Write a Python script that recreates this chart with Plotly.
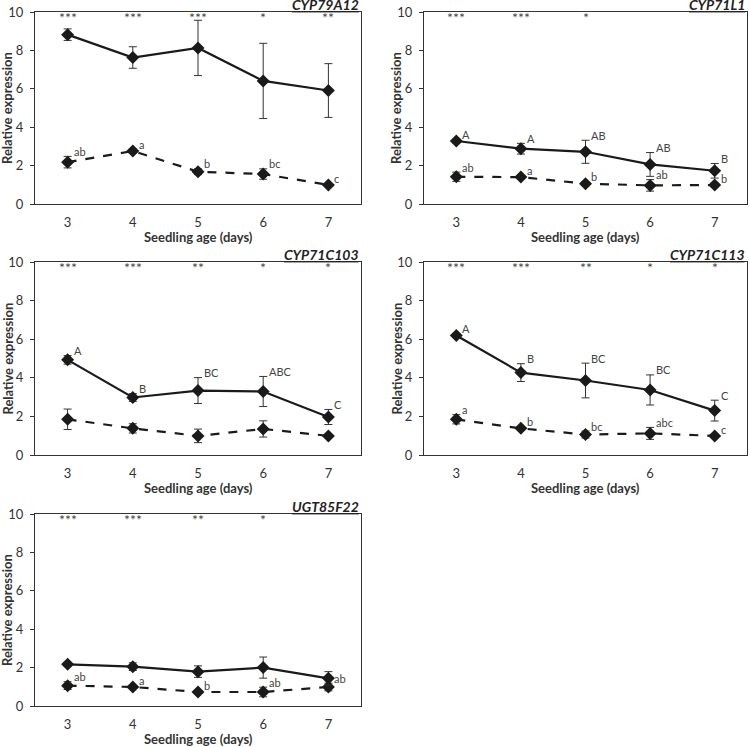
import plotly.graph_objects as go

days = [3, 4, 5, 6, 7]
genes = ["CYP79A12", "CYP71L1", "CYP71C103", "CYP71C113", "UGT85F22"]

# CYP79A12
cyp79a12_solid = [8.82, 7.63, 8.13, 6.41, 5.91]
cyp79a12_solid_err = [0.30, 0.56, 1.44, 1.96, 1.40]
cyp79a12_dash = [2.18, 2.76, 1.68, 1.56, 0.99]
cyp79a12_dash_err = [0.30, 0.10, 0.15, 0.27, 0.08]
cyp79a12_solid_lbl = ["", "", "", "", ""]
cyp79a12_dash_lbl = ["ab", "a", "b", "bc", "c"]
cyp79a12_stars = ["***", "***", "***", "*", "**"]

# CYP71L1
cyp71l1_solid = [3.28, 2.88, 2.72, 2.06, 1.73]
cyp71l1_solid_err = [0.10, 0.28, 0.60, 0.62, 0.38]
cyp71l1_dash = [1.42, 1.40, 1.06, 0.97, 0.99]
cyp71l1_dash_err = [0.24, 0.08, 0.10, 0.30, 0.10]
cyp71l1_solid_lbl = ["A", "A", "AB", "AB", "B"]
cyp71l1_dash_lbl = ["ab", "a", "b", "ab", "b"]
cyp71l1_stars = ["***", "***", "*", "", ""]

# CYP71C103
cyp71c103_solid = [4.93, 2.98, 3.34, 3.29, 1.97]
cyp71c103_solid_err = [0.22, 0.20, 0.67, 0.78, 0.39]
cyp71c103_dash = [1.85, 1.38, 0.99, 1.35, 0.99]
cyp71c103_dash_err = [0.53, 0.24, 0.35, 0.42, 0.07]
cyp71c103_solid_lbl = ["A", "B", "BC", "ABC", "C"]
cyp71c103_dash_lbl = ["", "", "", "", ""]
cyp71c103_stars = ["***", "***", "**", "*", "*"]

# CYP71C113
cyp71c113_solid = [6.19, 4.27, 3.86, 3.37, 2.30]
cyp71c113_solid_err = [0.10, 0.46, 0.90, 0.78, 0.54]
cyp71c113_dash = [1.85, 1.38, 1.06, 1.12, 0.99]
cyp71c113_dash_err = [0.24, 0.08, 0.18, 0.31, 0.08]
cyp71c113_solid_lbl = ["A", "B", "BC", "BC", "C"]
cyp71c113_dash_lbl = ["a", "b", "bc", "abc", "c"]
cyp71c113_stars = ["***", "***", "**", "*", "*"]

# UGT85F22
ugt85f22_solid = [2.17, 2.05, 1.79, 2.00, 1.44]
ugt85f22_solid_err = [0.08, 0.20, 0.30, 0.55, 0.35]
ugt85f22_dash = [1.06, 0.99, 0.73, 0.73, 0.99]
ugt85f22_dash_err = [0.20, 0.07, 0.08, 0.25, 0.20]
ugt85f22_solid_lbl = ["", "", "", "", ""]
ugt85f22_dash_lbl = ["ab", "a", "b", "ab", "ab"]
ugt85f22_stars = ["***", "***", "**", "*", ""]

x_title = "Seedling age (days)"
y_title = "Relative expression"

panels = [
    (cyp79a12_solid, cyp79a12_solid_err, cyp79a12_dash, cyp79a12_dash_err,
     cyp79a12_solid_lbl, cyp79a12_dash_lbl, cyp79a12_stars),
    (cyp71l1_solid, cyp71l1_solid_err, cyp71l1_dash, cyp71l1_dash_err,
     cyp71l1_solid_lbl, cyp71l1_dash_lbl, cyp71l1_stars),
    (cyp71c103_solid, cyp71c103_solid_err, cyp71c103_dash, cyp71c103_dash_err,
     cyp71c103_solid_lbl, cyp71c103_dash_lbl, cyp71c103_stars),
    (cyp71c113_solid, cyp71c113_solid_err, cyp71c113_dash, cyp71c113_dash_err,
     cyp71c113_solid_lbl, cyp71c113_dash_lbl, cyp71c113_stars),
    (ugt85f22_solid, ugt85f22_solid_err, ugt85f22_dash, ugt85f22_dash_err,
     ugt85f22_solid_lbl, ugt85f22_dash_lbl, ugt85f22_stars),
]

W, H = 750, 747
col_px = [(35, 361), (424, 747)]
row_px = [(12, 204), (262, 455), (514, 706)]
positions = [(0, 0), (0, 1), (1, 0), (1, 1), (2, 0)]

FONT = "Lato, Open Sans, sans-serif"
TXT = "#333333"
LINE = "#1a1a1a"

fig = go.Figure()
layout = {}
annotations = []

for i, (gene, pdata, (r, c)) in enumerate(zip(genes, panels, positions)):
    s, se, d, de, slbl, dlbl, stars = pdata
    n = "" if i == 0 else str(i + 1)
    xa, ya = "x" + n, "y" + n
    x0, x1 = col_px[c][0] / W, col_px[c][1] / W
    y1, y0 = 1 - row_px[r][0] / H, 1 - row_px[r][1] / H

    for vals, errs, dash in ((d, de, "dash"), (s, se, "solid")):
        fig.add_trace(go.Scatter(
            x=days, y=vals, xaxis=xa, yaxis=ya, mode="lines+markers",
            line=dict(color=LINE, width=2.2, dash=dash),
            marker=dict(symbol="diamond", size=10, color=LINE),
            error_y=dict(type="data", array=errs, visible=True,
                         color="#333333", thickness=1, width=4),
            showlegend=False, hoverinfo="skip"))

    common = dict(showline=True, mirror=True, linecolor="#333333", linewidth=1.3,
                  showgrid=False, zeroline=False, automargin=False,
                  tickfont=dict(family=FONT, size=13, color=TXT))
    layout["xaxis" + n] = dict(common, domain=[x0, x1], anchor=ya, range=[2.5, 7.5],
                               tickvals=days, ticks="", ticklabelstandoff=6)
    layout["yaxis" + n] = dict(common, domain=[y0, y1], anchor=xa, range=[0, 10],
                               tickvals=[0, 2, 4, 6, 8, 10], ticks="outside",
                               ticklen=4, tickcolor="#333333", ticklabelstandoff=4)

    # axis titles
    annotations.append(dict(
        text="<b>" + x_title + "</b>", xref="paper", yref="paper",
        x=(x0 + x1) / 2, y=y0, xanchor="center", yanchor="middle", yshift=-33,
        showarrow=False, font=dict(family=FONT, size=13, color=TXT)))
    annotations.append(dict(
        text="<b>" + y_title + "</b>", xref="paper", yref="paper",
        x=x0, y=(y0 + y1) / 2, xanchor="center", yanchor="middle", xshift=-28,
        textangle=-90, showarrow=False, font=dict(family=FONT, size=13, color=TXT)))

    annotations.append(dict(
        text="<b><i><u>" + gene + "</u></i></b>", xref="paper", yref="paper",
        x=x1, y=y1, xanchor="right", yanchor="bottom", showarrow=False,
        font=dict(family=FONT, size=14, color="#222222"), yshift=-3))

    for k, day in enumerate(days):
        if stars[k]:
            annotations.append(dict(text=stars[k], x=day, y=9.7, xref=xa, yref=ya,
                                    showarrow=False, xanchor="center", yanchor="middle",
                                    font=dict(family=FONT, size=14, color="#444444")))
        for lbl, vals, errs in ((slbl[k], s, se), (dlbl[k], d, de)):
            if lbl:
                annotations.append(dict(text=lbl, x=day + 0.06, y=vals[k] + errs[k],
                                        xref=xa, yref=ya, showarrow=False,
                                        xanchor="left", yanchor="middle", yshift=5,
                                        font=dict(family=FONT, size=11, color="#444444")))

fig.update_layout(**layout)
fig.update_layout(
    width=W, height=H, margin=dict(l=0, r=0, t=0, b=0),
    paper_bgcolor="white", plot_bgcolor="white",
    annotations=annotations,
    font=dict(family=FONT, color=TXT))

fig.write_html("out.html", config={"displayModeBar": False},
               post_script="document.body.style.margin='0px';document.body.style.overflow='hidden';")
